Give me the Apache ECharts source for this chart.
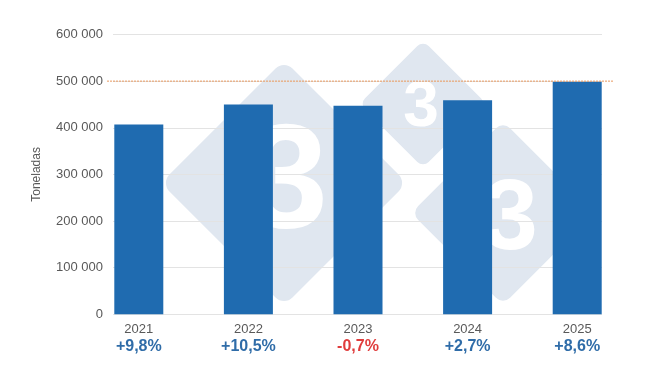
<!DOCTYPE html>
<html>
<head>
<meta charset="utf-8">
<script src="https://cdn.jsdelivr.net/npm/echarts@6/dist/echarts.min.js"></script>
<style>html,body{margin:0;padding:0;background:#fff}#c{width:650px;height:366px}</style>
</head>
<body>
<div id="c"></div>
<script>
const categories = ['2021', '2022', '2023', '2024', '2025'];
const volumes = [407000, 450000, 447000, 459000, 498500];
const changes = ['+9,8%', '+10,5%', '-0,7%', '+2,7%', '+8,6%'];
const referenceLevel = 500000;
const yTicks = [0, 100000, 200000, 300000, 400000, 500000, 600000];

const FONT = 'Liberation Sans, Arial, sans-serif';
const chart = echarts.init(document.getElementById('c'), null, {renderer: 'canvas'});

const wmColor = '#e0e7f0';
function diamond(cx, cy, side, r) {
  return {
    type: 'rect', x: cx, y: cy, rotation: Math.PI / 4, z: -10,
    shape: {x: -side / 2, y: -side / 2, width: side, height: side, r: r},
    style: {fill: wmColor}, silent: true
  };
}
function three(cx, cy, size) {
  return {
    type: 'text', x: cx, y: cy, z: -9, silent: true,
    style: {text: '3', fill: '#ffffff', font: 'bold ' + size + 'px ' + FONT, align: 'center', verticalAlign: 'middle'}
  };
}

chart.setOption({
  animation: false,
  graphic: [
    diamond(284, 183, 174, 12),
    diamond(423, 104, 90, 8),
    diamond(503, 213, 130, 10),
    three(287, 186, 148),
    three(421, 108, 64),
    three(510, 221, 100)
  ],
  grid: [
    {left: 113, right: 48, top: 34.5, bottom: 51.7},
    {left: 84, right: 18, top: 34.5, bottom: 51.7},
    {left: 107, right: 37, top: 34.5, bottom: 51.7}
  ],
  xAxis: [
    {gridIndex: 0, type: 'category', data: categories, show: false},
    {gridIndex: 1, type: 'category', data: categories,
      axisLine: {show: false}, axisTick: {show: false},
      axisLabel: {
        margin: 7,
        formatter: function (v, i) {
          const st = changes[i].charAt(0) === '-' ? 'neg' : 'pos';
          return '{y|' + v + '}\n{' + st + '|' + changes[i] + '}';
        },
        rich: {
          y: {fontFamily: FONT, fontSize: 13, color: '#595959', lineHeight: 16},
          pos: {fontFamily: FONT, fontSize: 16, fontWeight: 'bold', color: '#2f6ca8', lineHeight: 18},
          neg: {fontFamily: FONT, fontSize: 16, fontWeight: 'bold', color: '#e03c3c', lineHeight: 18}
        }
      }},
    {gridIndex: 2, type: 'value', min: 0, max: 1, show: false}
  ],
  yAxis: [
    {gridIndex: 0, type: 'value', min: 0, max: 600000, interval: 100000,
      name: 'Toneladas', nameLocation: 'middle', nameGap: 70,
      nameTextStyle: {fontFamily: FONT, fontSize: 12, color: '#595959'},
      axisLine: {show: false}, axisTick: {show: false},
      axisLabel: {fontFamily: FONT, fontSize: 13, color: '#595959', margin: 10,
        formatter: function (v) { return String(v).replace(/\B(?=(\d{3})+(?!\d))/g, ' '); }},
      splitLine: {lineStyle: {color: '#e3e3e3', width: 1}}},
    {gridIndex: 1, type: 'value', min: 0, max: 600000, show: false},
    {gridIndex: 2, type: 'value', min: 0, max: 600000, show: false}
  ],
  series: [
    {type: 'bar', xAxisIndex: 1, yAxisIndex: 1, data: volumes, barWidth: 49,
      itemStyle: {color: '#1f6bb0'}, z: 3},
    {type: 'line', xAxisIndex: 2, yAxisIndex: 2, symbol: 'none', z: 4,
      data: [[0, referenceLevel], [1, referenceLevel]],
      lineStyle: {color: '#e8985e', width: 1, type: [2, 1]}}
  ]
});
</script>
</body>
</html>
